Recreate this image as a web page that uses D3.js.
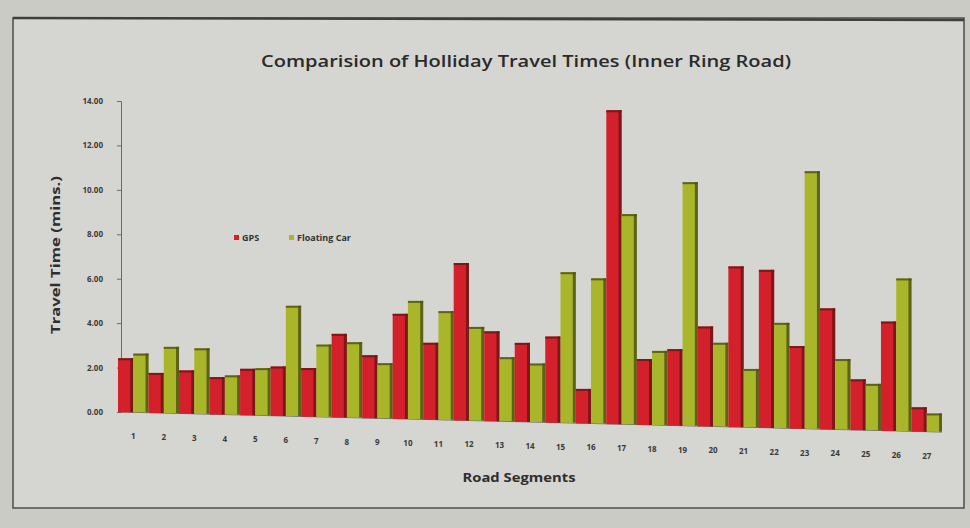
<!DOCTYPE html>
<html>
<head>
<meta charset="utf-8">
<script src="https://cdn.jsdelivr.net/npm/d3@7"></script>
<style>
  html, body { margin: 0; padding: 0; background: #cdcdc8; }
  svg { display: block; }
  text { font-family: "Open Sans", "DejaVu Sans", sans-serif; }
</style>
</head>
<body>
<svg id="chart" width="970" height="528"></svg>
<script>
// Road segment labels along the x axis
const segments = ["1","2","3","4","5","6","7","8","9","10","11","12","13","14",
                  "15","16","17","18","19","20","21","22","23","24","25","26","27"];
// Travel time per segment (minutes)
const gpsTimes = [2.43, 1.80, 1.94, 1.67, 2.07, 2.20, 2.16, 3.70, 2.78, 4.63, 3.38, 6.90, 3.93, 3.45,
                  3.75, 1.50, 13.60, 2.85, 3.30, 4.30, 6.90, 6.77, 3.53, 5.16, 2.16, 4.64, 1.03];
const floatingCarTimes = [2.64, 2.97, 2.93, 1.75, 2.10, 4.90, 3.20, 3.33, 2.43, 5.20, 4.77, 4.10, 2.80, 2.55,
                  6.55, 6.30, 9.10, 3.20, 10.50, 3.60, 2.50, 4.50, 11.00, 3.00, 1.97, 6.47, 0.77];
const seriesNames = ["GPS", "Floating Car"];
const yTicks = [0, 2, 4, 6, 8, 10, 12, 14];

const seriesColor = { "GPS": "#d3202a", "Floating Car": "#a9b62a" };
const edgeColor   = { "GPS": "#6e1616", "Floating Car": "#505314" };

const svg = d3.select("#chart");

// page and chart frame
svg.append("rect").attr("x", 0).attr("y", 0).attr("width", 970).attr("height", 528).attr("fill", "#cbcbc6");
svg.append("rect").attr("x", 13).attr("y", 18).attr("width", 951).attr("height", 490)
  .attr("fill", "#d5d5d1").attr("stroke", "#555").attr("stroke-width", 1.6);
svg.append("line").attr("x1", 13).attr("x2", 964).attr("y1", 18).attr("y2", 20)
  .attr("stroke", "#3e3e3e").attr("stroke-width", 2.5);

// title
svg.append("text")
  .attr("x", 526).attr("y", 67)
  .attr("text-anchor", "middle")
  .attr("font-size", 17).attr("font-weight", 600).attr("fill", "#2a2a2a")
  .attr("textLength", 530).attr("lengthAdjust", "spacingAndGlyphs")
  .text("Comparision of  Holliday Travel Times (Inner Ring Road)");

// plot area: the baseline runs slightly downhill to the right (page tilt)
const left = 121, baseY = 412, topY = 101;
const tilt = 0.0244;
const baseAt = px => baseY + tilt * (px - left);

const x0 = d3.scaleBand().domain(segments).range([118, 942]).paddingInner(0).paddingOuter(0);
const x1 = d3.scaleBand().domain(seriesNames).range([0, x0.bandwidth()]).padding(0);
const y = d3.scaleLinear().domain([0, 14]).range([baseY, topY]);
// value scale for a given segment, following the tilted baseline
const yAt = seg => d3.scaleLinear().domain([0, 14])
  .range([baseAt(x0(seg) + x0.bandwidth() / 2), topY]);

const plot = svg.append("g");

// y axis
const yAxis = plot.append("g")
  .attr("transform", `translate(${left},0)`)
  .call(d3.axisLeft(y).tickValues(yTicks).tickFormat(d3.format(".2f")).tickSize(4).tickPadding(14));
yAxis.select(".domain").attr("stroke", "#6a6a6a");
yAxis.selectAll(".tick line").attr("stroke", "#6a6a6a");
yAxis.selectAll(".tick text").attr("font-size", 8).attr("font-weight", 700).attr("fill", "#3a3a3a");

// x axis line along the tilted baseline
const [xa, xb] = x0.range();
plot.append("line")
  .attr("x1", xa).attr("y1", baseAt(xa)).attr("x2", xb).attr("y2", baseAt(xb))
  .attr("stroke", "#6a6a6a");

// x tick labels
plot.append("g").selectAll("text")
  .data(segments).join("text")
  .attr("x", d => x0(d) + x0.bandwidth() / 2)
  .attr("y", d => baseAt(x0(d) + x0.bandwidth() / 2) + 27)
  .attr("text-anchor", "middle")
  .attr("font-size", 8).attr("font-weight", 700).attr("fill", "#3a3a3a")
  .text(d => d);

// bars
const rows = segments.map((s, i) => ({
  seg: s,
  vals: [
    { name: "GPS", v: gpsTimes[i] },
    { name: "Floating Car", v: floatingCarTimes[i] }
  ]
}));

const groups = plot.append("g").selectAll("g")
  .data(rows).join("g")
  .attr("transform", d => `translate(${x0(d.seg)},0)`);

groups.each(function(d) {
  const g = d3.select(this);
  const ys = yAt(d.seg);
  d.vals.forEach(b => {
    const bx = x1(b.name), bw = x1.bandwidth();
    const by = ys(b.v), bh = ys(0) - ys(b.v);
    g.append("rect").attr("x", bx).attr("y", by).attr("width", bw).attr("height", bh)
      .attr("fill", seriesColor[b.name]);
    // darker edge on the right and top of each bar
    g.append("rect").attr("x", bx + bw - 3).attr("y", by).attr("width", 3).attr("height", bh)
      .attr("fill", edgeColor[b.name]).attr("opacity", 0.85);
    g.append("rect").attr("x", bx).attr("y", by).attr("width", bw).attr("height", 2)
      .attr("fill", edgeColor[b.name]).attr("opacity", 0.85);
  });
});

// axis titles
svg.append("text")
  .attr("transform", "translate(60,255) rotate(-90)")
  .attr("text-anchor", "middle")
  .attr("font-size", 12).attr("font-weight", 700).attr("fill", "#2e2e2e")
  .attr("textLength", 158).attr("lengthAdjust", "spacingAndGlyphs")
  .text("Travel Time (mins.)");

svg.append("text")
  .attr("x", 519).attr("y", 482)
  .attr("text-anchor", "middle")
  .attr("font-size", 12).attr("font-weight", 700).attr("fill", "#2e2e2e")
  .attr("textLength", 113).attr("lengthAdjust", "spacingAndGlyphs")
  .text("Road Segments");

// legend
const legend = svg.append("g").attr("transform", "translate(234,241)");
const legendItems = [
  { name: "GPS", x: 0 },
  { name: "Floating Car", x: 55 }
];
legendItems.forEach(it => {
  legend.append("rect").attr("x", it.x).attr("y", -6).attr("width", 5).attr("height", 5)
    .attr("fill", seriesColor[it.name]);
  legend.append("text").attr("x", it.x + 8).attr("y", 0)
    .attr("font-size", 9).attr("font-weight", 700).attr("fill", "#333")
    .text(it.name);
});
</script>
</body>
</html>
